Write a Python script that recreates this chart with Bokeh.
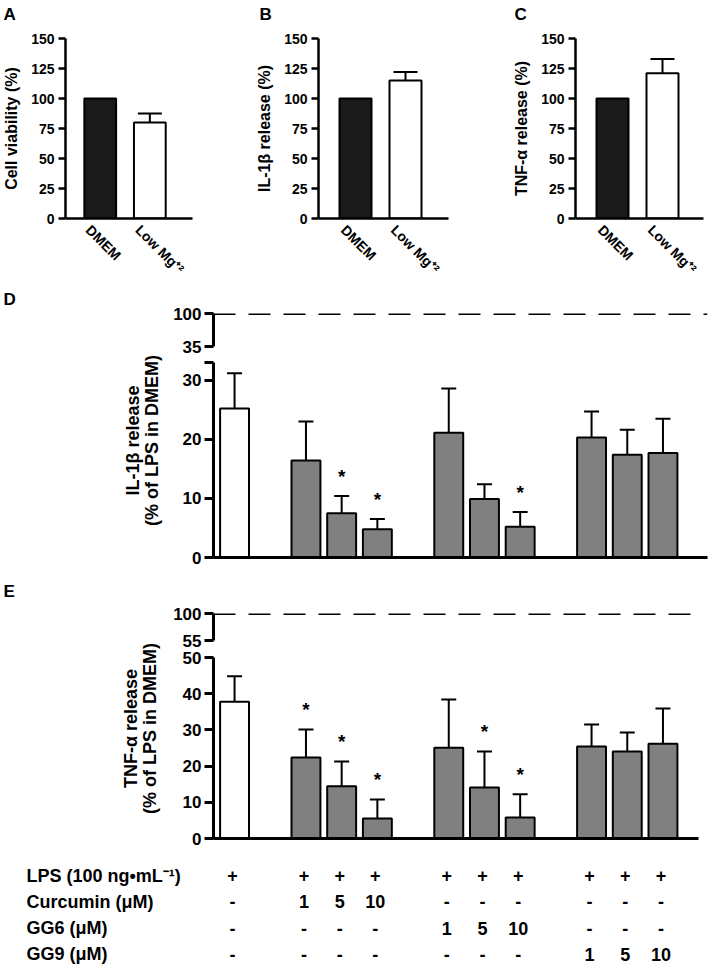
import math
from bokeh.plotting import figure
from bokeh.models import Range1d, FixedTicker, Span, Whisker, ColumnDataSource, TeeHead
from bokeh.layouts import column, row
from bokeh.embed import file_html
from bokeh.resources import INLINE
from bokeh.core.properties import value

FONT = "Liberation Sans"

# ---------------- data ----------------
panel_letters = ["A", "B", "C"]
top_categories = ["DMEM", "Low Mg⁺²"]
top_colors = ["#1a1a1a", "white"]
viability = [100, 80]
viability_err = [0, 7.5]
il1b_pct = [100, 115]
il1b_pct_err = [0, 7]
tnf_pct = [100, 121]
tnf_pct_err = [0, 12]

group_names = ["LPS", "Curcumin", "GG6", "GG9"]
group_of = [0, 1, 1, 1, 2, 2, 2, 3, 3, 3]
lps_row = ["+", "+", "+", "+", "+", "+", "+", "+", "+", "+"]
curcumin_row = ["-", "1", "5", "10", "-", "-", "-", "-", "-", "-"]
gg6_row = ["-", "-", "-", "-", "1", "5", "10", "-", "-", "-"]
gg9_row = ["-", "-", "-", "-", "-", "-", "-", "1", "5", "10"]
table_rows = ["LPS (100 ng•mL⁻¹)", "Curcumin (μM)", "GG6 (μM)", "GG9 (μM)"]

il1b_lps = [25.2, 16.4, 7.5, 4.8, 21.1, 9.9, 5.2, 20.3, 17.4, 17.7]
il1b_lps_err = [6.0, 6.6, 2.9, 1.7, 7.5, 2.5, 2.5, 4.4, 4.2, 5.8]
il1b_sig = [False, False, True, True, False, False, True, False, False, False]

tnf_lps = [37.8, 22.4, 14.4, 5.5, 25.1, 14.1, 5.8, 25.4, 24.0, 26.2]
tnf_lps_err = [7.0, 7.7, 6.9, 5.3, 13.3, 9.9, 6.4, 6.1, 5.3, 9.7]
tnf_sig = [False, True, True, True, False, True, True, False, False, False]

bar_colors = ["white"] + ["#808080"] * 9
lps_dmem_ref = 100

top_ticks = [0, 25, 50, 75, 100, 125, 150]
d_upper_ticks = [35, 100]
d_lower_ticks = [0, 10, 20, 30, 33]
e_upper_ticks = [55, 100]
e_lower_ticks = [0, 10, 20, 30, 40, 50]

positions = [i + g for i, g in enumerate(group_of)]

UNIT = 35.7            # px per bar slot
X_START = -0.59
X_END_D = X_START + 494 / UNIT
X_END_E = X_START + 485 / UNIT
LEFT_W = 170


def style_axis(ax, size, tick_out, lw, standoff):
    ax.axis_line_width = lw
    ax.axis_line_color = "black"
    ax.major_tick_line_width = lw
    ax.major_tick_line_color = "black"
    ax.major_tick_out = tick_out
    ax.major_tick_in = 0
    ax.minor_tick_line_color = None
    ax.major_label_text_font = FONT
    ax.major_label_text_font_style = "bold"
    ax.major_label_text_font_size = size
    ax.major_label_text_color = "black"
    ax.major_label_standoff = standoff


def base_fig(**kw):
    p = figure(output_backend="svg", toolbar_location=None, **kw)
    p.outline_line_color = None
    p.grid.visible = False
    p.background_fill_color = "white"
    p.border_fill_color = "white"
    return p


def blank_fig(width, height, xr, yr):
    return base_fig(width=width, height=height, x_range=xr, y_range=yr,
                    min_border_left=0, min_border_right=0, min_border_top=0, min_border_bottom=0,
                    x_axis_location=None, y_axis_location=None)


# strip holding the panel letters A, B, C
STRIP_H = 26
pS = blank_fig(709, STRIP_H, Range1d(0, 709), Range1d(STRIP_H, 0))
pS.text(x=[3, 259, 514], y=[4, 4, 4], text=panel_letters, text_align="left", text_baseline="top",
        text_font=value(FONT), text_font_style="bold", text_font_size="17px", text_color="black")


def top_panel(values, errs, ylabel, width, bl, br, xs, xe):
    p = base_fig(width=width, height=285 - STRIP_H, x_range=Range1d(xs, xe), y_range=Range1d(0, 150),
                 min_border_left=bl, min_border_right=br, min_border_top=38 - STRIP_H,
                 min_border_bottom=67)
    x = list(range(len(values)))
    src = ColumnDataSource(dict(x=x, top=values, color=top_colors))
    p.vbar(x="x", top="top", bottom=0, width=0.64, fill_color="color", line_color="black",
           line_width=2, source=src)
    ex = [xi for xi, e in zip(x, errs) if e > 0]
    el = [v for v, e in zip(values, errs) if e > 0]
    eu = [v + e for v, e in zip(values, errs) if e > 0]
    esrc = ColumnDataSource(dict(base=ex, lower=el, upper=eu))
    p.add_layout(Whisker(base="base", lower="lower", upper="upper", source=esrc,
                         line_width=2, line_color="black",
                         upper_head=TeeHead(size=24, line_width=2, line_color="black"),
                         lower_head=None))
    p.yaxis.ticker = FixedTicker(ticks=top_ticks)
    # rotated category labels, anchored a little left of each bar centre
    label_at = [xi - 0.24 for xi in x]
    p.xaxis.ticker = FixedTicker(ticks=label_at)
    p.xaxis.major_label_overrides = {t: c for t, c in zip(label_at, top_categories)}
    style_axis(p.yaxis[0], "14px", 7, 2.5, 4)
    style_axis(p.xaxis[0], "14px", 0, 2.5, 9)
    p.xaxis.major_tick_line_color = None
    p.xaxis.major_label_orientation = -math.pi / 4
    p.yaxis.axis_label = ylabel
    p.yaxis.axis_label_text_font = FONT
    p.yaxis.axis_label_text_font_style = "bold"
    p.yaxis.axis_label_text_font_size = "16px"
    p.yaxis.axis_label_text_color = "black"
    p.yaxis.axis_label_standoff = 8
    return p


pA = top_panel(viability, viability_err, "Cell viability (%)", 230, 64, 38, -0.7, 1.86)
pB = top_panel(il1b_pct, il1b_pct_err, "IL-1β release (%)", 230, 88, 12, -0.74, 1.86)
pC = top_panel(tnf_pct, tnf_pct_err, "TNF-α release (%)", 249, 115, 6, -0.74, 1.82)


def upper_seg(lo, ticks, height, btop, bbot, xend, bright):
    p = base_fig(width=709 - LEFT_W, height=height, x_range=Range1d(X_START, xend),
                 y_range=Range1d(lo, 100), min_border_left=43, min_border_right=bright,
                 min_border_top=btop, min_border_bottom=bbot, x_axis_location=None)
    p.add_layout(Span(location=lps_dmem_ref, dimension="width", line_color="black",
                      line_width=3, line_dash="22 13"))
    p.yaxis.ticker = FixedTicker(ticks=ticks)
    style_axis(p.yaxis[0], "17px", 9, 3, 3)
    return p


def lower_seg(values, errs, sig, hi, ticks, height, btop, bbot, xend, bright):
    p = base_fig(width=709 - LEFT_W, height=height, x_range=Range1d(X_START, xend),
                 y_range=Range1d(0, hi), min_border_left=43, min_border_right=bright,
                 min_border_top=btop, min_border_bottom=bbot)
    src = ColumnDataSource(dict(x=positions, top=values, color=bar_colors))
    p.vbar(x="x", top="top", bottom=0, width=0.81, fill_color="color", line_color="black",
           line_width=2, source=src)
    esrc = ColumnDataSource(dict(base=positions, lower=values,
                                 upper=[v + e for v, e in zip(values, errs)]))
    p.add_layout(Whisker(base="base", lower="lower", upper="upper", source=esrc,
                         line_width=2, line_color="black",
                         upper_head=TeeHead(size=15, line_width=2, line_color="black"),
                         lower_head=None))
    sx = [x for x, s in zip(positions, sig) if s]
    sy = [v + e for v, e, s in zip(values, errs, sig) if s]
    p.text(x=sx, y=sy, text=["*"] * len(sx), text_align="center", text_baseline="alphabetic",
           y_offset=-20, text_font=value(FONT), text_font_style="bold", text_font_size="19px",
           text_color="black")
    p.yaxis.ticker = FixedTicker(ticks=ticks)
    p.yaxis.major_label_overrides = {t: ("" if t % 10 else str(t)) for t in ticks}
    style_axis(p.yaxis[0], "17px", 9, 3, 3)
    style_axis(p.xaxis[0], "16px", 0, 3, 3)
    p.xaxis.ticker = FixedTicker(ticks=[])
    return p


def side_labels(height, let, let_y, line1, lab_y, lab_x):
    p = blank_fig(LEFT_W, height, Range1d(0, LEFT_W), Range1d(height, 0))
    p.text(x=[3], y=[let_y], text=[let], text_align="left", text_baseline="top",
           text_font=value(FONT), text_font_style="bold", text_font_size="17px", text_color="black")
    p.text(x=[lab_x, lab_x + 19], y=[lab_y, lab_y], text=[line1, "(% of LPS in DMEM)"],
           angle=math.pi / 2, text_align="center", text_baseline="middle",
           text_font=value(FONT), text_font_style="bold", text_font_size="18px", text_color="black")
    return p


pD1 = upper_seg(35, d_upper_ticks, 71, 28, 10, X_END_D, 2)
pD2 = lower_seg(il1b_lps, il1b_lps_err, il1b_sig, 33, d_lower_ticks, 224, 6, 23, X_END_D, 2)
pLD = side_labels(295, "D", 4, "IL-1β release", 155, 132)

pE1 = upper_seg(55, e_upper_ticks, 70, 33, 10, X_END_E, 11)
pE2 = lower_seg(tnf_lps, tnf_lps_err, tnf_sig, 50, e_lower_ticks, 213, 7, 25, X_END_E, 11)
pLE = side_labels(283, "E", 1, "TNF-α release", 148, 130)

# condition table
ROW_H = 26.3
T_H = 104
TL_W = 205
t_yr = (-(T_H - 12) / ROW_H, 12 / ROW_H)
pT = base_fig(width=709 - TL_W, height=T_H, x_range=Range1d(X_START, X_END_D), y_range=Range1d(*t_yr),
              min_border_left=213 - TL_W, min_border_right=2, min_border_top=0, min_border_bottom=0,
              x_axis_location=None, y_axis_location=None)
for r, vals in enumerate([lps_row, curcumin_row, gg6_row, gg9_row]):
    pT.text(x=positions, y=[-r] * len(positions), text=vals, text_align="center",
            text_baseline="middle", x_offset=-2, text_font=value(FONT), text_font_style="bold",
            text_font_size="18px", text_color="black")
pLT = blank_fig(TL_W, T_H, Range1d(0, TL_W), Range1d(*t_yr))
pLT.text(x=[26] * len(table_rows), y=[-r for r in range(len(table_rows))], text=table_rows,
         text_align="left", text_baseline="middle", text_font=value(FONT), text_font_style="bold",
         text_font_size="18px", text_color="black")

layout = column(pS,
                row(pA, pB, pC),
                row(pLD, column(pD1, pD2)),
                row(pLE, column(pE1, pE2)),
                row(pLT, pT))

open("out.html", "w").write(file_html(layout, INLINE))
